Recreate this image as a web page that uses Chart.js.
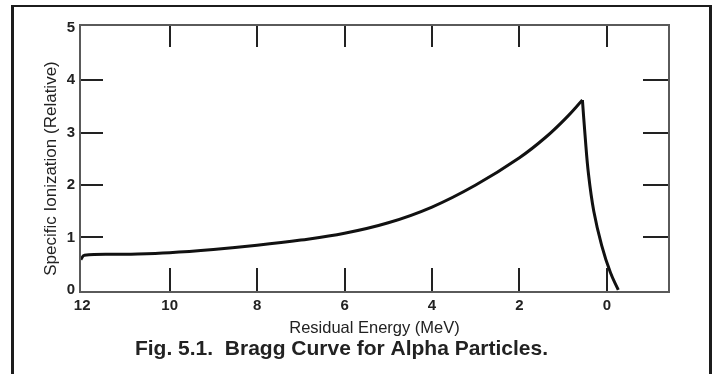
<!DOCTYPE html>
<html>
<head>
<meta charset="utf-8">
<script src="https://cdn.jsdelivr.net/npm/chart.js@4"></script>
<style>
  html, body { margin: 0; padding: 0; background: #fff; }
  #wrap { position: relative; width: 712px; height: 374px; overflow: hidden; }
  #frame {
    position: absolute; left: 11px; top: 5px; width: 695px; height: 420px;
    border: 3px solid #1c1c1c; border-top-width: 2px; border-bottom: none;
  }
  #chart { position: absolute; left: 0; top: 0; }
</style>
</head>
<body>
<div id="wrap">
  <div id="frame"></div>
  <canvas id="chart" width="712" height="374"></canvas>
</div>
<script>
// residual energy (MeV) vs specific ionization
// rising part, up to the Bragg peak
const riseEnergy = [12.03, 11.95, 11, 10, 9, 8, 7, 6, 5, 4, 3, 2, 1.4, 0.92, 0.56];
const riseIon = [0.58, 0.66, 0.68, 0.71, 0.77, 0.85, 0.95, 1.08, 1.28, 1.58, 2.00, 2.52, 2.91, 3.29, 3.62];
// fall-off after the peak
const fallEnergy = [0.56, 0.50, 0.42, 0.30, 0.12, -0.08, -0.26];
const fallIon = [3.62, 2.95, 2.20, 1.50, 0.85, 0.33, 0];

const xTicks = [12, 10, 8, 6, 4, 2, 0];
const yTicks = [0, 1, 2, 3, 4, 5];

const caption = "Fig. 5.1.  Bragg Curve for Alpha Particles.";
const xTitle = "Residual Energy (MeV)";
const yTitle = "Specific Ionization (Relative)";

const FONT = "'Liberation Sans', Arial, sans-serif";

// plot box, inward tick marks on all four sides, and the y axis title
const boxTicks = {
    id: "boxTicks",
    afterDatasetsDraw(chart) {
        const { ctx, chartArea: a, scales } = chart;
        ctx.save();
        ctx.strokeStyle = "#222";
        ctx.lineWidth = 2;
        xTicks.forEach(v => {
            const px = Math.round(scales.x.getPixelForValue(v));
            if (px <= a.left + 3) return;
            ctx.beginPath();
            ctx.moveTo(px, a.bottom); ctx.lineTo(px, a.bottom - 24);
            ctx.moveTo(px, a.top); ctx.lineTo(px, a.top + 22);
            ctx.stroke();
        });
        yTicks.forEach(v => {
            if (v === 0 || v === 5) return;
            const py = Math.round(scales.y.getPixelForValue(v));
            ctx.beginPath();
            ctx.moveTo(a.left, py); ctx.lineTo(a.left + 23, py);
            ctx.moveTo(a.right, py); ctx.lineTo(a.right - 26, py);
            ctx.stroke();
        });
        ctx.strokeStyle = "#5a5a5a";
        ctx.strokeRect(a.left, a.top, a.right - a.left, a.bottom - a.top);

        // y title sits a little below the middle of the plot in the original
        ctx.translate(a.left - 29, (a.top + a.bottom) / 2 + 10);
        ctx.rotate(-Math.PI / 2);
        ctx.fillStyle = "#222";
        ctx.font = "17px " + FONT;
        ctx.textAlign = "center";
        ctx.textBaseline = "middle";
        ctx.fillText(yTitle, 0, 0);
        ctx.restore();
    }
};

const lineStyle = {
    borderColor: "#111",
    borderWidth: 3,
    pointRadius: 0,
    tension: 0.4,
    fill: false
};

new Chart(document.getElementById("chart"), {
    type: "line",
    data: {
        datasets: [
            { ...lineStyle, data: riseEnergy.map((e, i) => ({ x: e, y: riseIon[i] })) },
            { ...lineStyle, data: fallEnergy.map((e, i) => ({ x: e, y: fallIon[i] })) }
        ]
    },
    options: {
        responsive: false,
        animation: false,
        layout: { padding: { left: 14, top: 25, right: 43, bottom: 0 } },
        plugins: {
            legend: { display: false },
            tooltip: { enabled: false },
            title: {
                display: true,
                text: caption,
                position: "bottom",
                color: "#222",
                font: { family: FONT, size: 21, weight: "bold" },
                padding: { top: 0, bottom: 12 }
            }
        },
        scales: {
            x: {
                type: "linear",
                reverse: true,
                min: -1.42,
                max: 12.05,
                afterBuildTicks: s => { s.ticks = xTicks.map(v => ({ value: v })); },
                afterFit: s => { s.height = 44.8; },
                grid: { display: false, drawTicks: false },
                border: { display: false },
                ticks: {
                    padding: 5,
                    color: "#222",
                    font: { family: FONT, size: 15, weight: "bold" },
                    maxRotation: 0,
                    autoSkip: false
                },
                title: {
                    display: true,
                    text: xTitle,
                    color: "#222",
                    font: { family: FONT, size: 16.5, lineHeight: 1 },
                    padding: { top: 0, bottom: 0 }
                }
            },
            y: {
                type: "linear",
                min: -0.04,
                max: 5.05,
                afterBuildTicks: s => { s.ticks = yTicks.map(v => ({ value: v })); },
                afterFit: s => { s.width = 66; },
                grid: { display: false, drawTicks: false },
                border: { display: false },
                ticks: {
                    padding: 5,
                    color: "#222",
                    font: { family: FONT, size: 15, weight: "bold" }
                },
                title: { display: false }
            }
        }
    },
    plugins: [boxTicks]
});
</script>
</body>
</html>
